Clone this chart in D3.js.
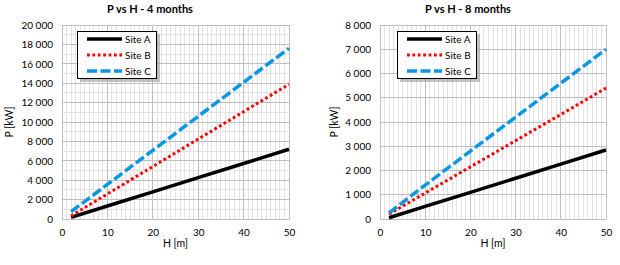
<!DOCTYPE html>
<html><head><meta charset="utf-8">
<script src="https://cdn.jsdelivr.net/npm/d3@7"></script>
<style>body{margin:0;background:#fff}svg{display:block}text{font-family:Lato,"Open Sans",sans-serif;fill:#000}</style>
</head><body><svg id="c" width="620" height="265"></svg>
<script>
// ---- data ----
const seriesNames = ["Site A", "Site B", "Site C"];
const H = [2, 10, 20, 30, 40, 50];
const siteA4 = [170, 1340, 2800, 4260, 5720, 7190];
const siteB4 = [320, 2580, 5410, 8240, 11060, 13890];
const siteC4 = [750, 3560, 7070, 10580, 14090, 17600];
const siteA8 = [50, 520, 1100, 1680, 2260, 2845];
const siteB8 = [200, 1070, 2150, 3230, 4310, 5400];
const siteC8 = [250, 1400, 2800, 4200, 5600, 7000];
const xTicks = [0, 10, 20, 30, 40, 50];
const yTicks4 = [0, 2000, 4000, 6000, 8000, 10000, 12000, 14000, 16000, 18000, 20000];
const yTicks8 = [0, 1000, 2000, 3000, 4000, 5000, 6000, 7000, 8000];
const titles = ["P vs H - 4 months", "P vs H - 8 months"];

const fmt = d3.formatLocale({decimal: ",", thousands: "\u00a0", grouping: [3], currency: ["", ""]}).format(",");
const svg = d3.select("#c");
const styles = [
  {color: "#000000", dash: null, cap: "butt", w: 3.5},
  {color: "#ff0000", dash: "2.8,2.6", cap: "butt", w: 3},
  {color: "#0a96e6", dash: "10,3.5", cap: "butt", w: 3.5}
];

function chart(cfg) {
  const g = svg.append("g");
  const x = d3.scaleLinear().domain([0, 50]).range([cfg.x0, cfg.x1]);
  const y = d3.scaleLinear().domain([0, cfg.yMax]).range([219, 25]);
  // minor vertical grid
  g.append("g").selectAll("line").data(d3.range(0, 51, 1).filter(v => v % 10 !== 0)).join("line")
    .attr("x1", d => x(d)).attr("x2", d => x(d)).attr("y1", y(0)).attr("y2", y(cfg.yMax))
    .attr("stroke", "#e3e3e3").attr("stroke-width", 1).attr("shape-rendering", "crispEdges");
  if (cfg.yMinor) {
    g.append("g").selectAll("line").data(d3.range(cfg.yMinor, cfg.yMax, cfg.yMinor).filter(v => !cfg.yTicks.includes(v))).join("line")
      .attr("x1", x(0)).attr("x2", x(50)).attr("y1", d => y(d)).attr("y2", d => y(d))
      .attr("stroke", "#e3e3e3").attr("stroke-width", 1).attr("shape-rendering", "crispEdges");
  }
  // major grid
  g.append("g").selectAll("line").data(cfg.yTicks).join("line")
    .attr("x1", x(0)).attr("x2", x(50)).attr("y1", d => y(d)).attr("y2", d => y(d))
    .attr("stroke", "#bfbfbf").attr("stroke-width", 1).attr("shape-rendering", "crispEdges");
  g.append("g").selectAll("line").data(xTicks).join("line")
    .attr("x1", d => x(d)).attr("x2", d => x(d)).attr("y1", y(0)).attr("y2", y(cfg.yMax))
    .attr("stroke", "#bfbfbf").attr("stroke-width", 1).attr("shape-rendering", "crispEdges");
  // axes (labels only)
  const ya = g.append("g").attr("transform", `translate(${x(0)},0)`)
    .call(d3.axisLeft(y).tickValues(cfg.yTicks).tickFormat(fmt).tickSize(0).tickPadding(9));
  const xa = g.append("g").attr("transform", `translate(0,${y(0)})`)
    .call(d3.axisBottom(x).tickValues(xTicks).tickSize(0).tickPadding(10));
  [ya, xa].forEach(a => {
    a.select(".domain").attr("stroke", "#bfbfbf");
    a.selectAll("text").attr("font-size", 10).attr("font-family", "Lato").attr("fill", "#000");
  });
  // lines
  const line = d3.line().x((d, i) => x(H[i])).y(d => y(d));
  cfg.series.forEach((s, i) => {
    g.append("path").datum(s).attr("d", line).attr("fill", "none")
      .attr("stroke", styles[i].color).attr("stroke-width", styles[i].w)
      .attr("stroke-dasharray", styles[i].dash).attr("stroke-linecap", styles[i].cap);
  });
  // titles
  g.append("text").attr("x", cfg.tx).attr("y", 13).attr("text-anchor", "middle")
    .attr("font-size", 11).attr("font-weight", "bold").text(cfg.title);
  g.append("text").attr("x", (cfg.x0 + cfg.x1) / 2).attr("y", 247).attr("text-anchor", "middle")
    .attr("font-size", 10.5).text("H [m]");
  g.append("text").attr("transform", `translate(${cfg.yt},122) rotate(-90)`).attr("text-anchor", "middle")
    .attr("font-size", 10.5).text("P [kW]");
  // legend
  const lg = g.append("g").attr("transform", `translate(${cfg.lx},31)`);
  lg.append("rect").attr("x", 3).attr("y", 3).attr("width", 80).attr("height", 48).attr("fill", "#9a9a9a").attr("opacity", 0.6);
  lg.append("rect").attr("x", 0.5).attr("y", 0.5).attr("width", 79).attr("height", 47).attr("fill", "#fff").attr("stroke", "#000");
  seriesNames.forEach((n, i) => {
    const yy = 8 + i * 16;
    lg.append("line").attr("x1", 10).attr("x2", 45).attr("y1", yy).attr("y2", yy)
      .attr("stroke", styles[i].color).attr("stroke-width", styles[i].w)
      .attr("stroke-dasharray", styles[i].dash).attr("stroke-linecap", styles[i].cap);
    lg.append("text").attr("x", 48).attr("y", yy + 3.5).attr("font-size", 10).text(n);
  });
}

chart({x0: 62, x1: 289, yMax: 20000, yTicks: yTicks4, yMinor: 1000, series: [siteA4, siteB4, siteC4],
  title: titles[0], tx: 150, yt: 13, lx: 77});
chart({x0: 380, x1: 606, yMax: 8000, yTicks: yTicks8, yMinor: null, series: [siteA8, siteB8, siteC8],
  title: titles[1], tx: 468, yt: 338, lx: 397});
</script></body></html>
